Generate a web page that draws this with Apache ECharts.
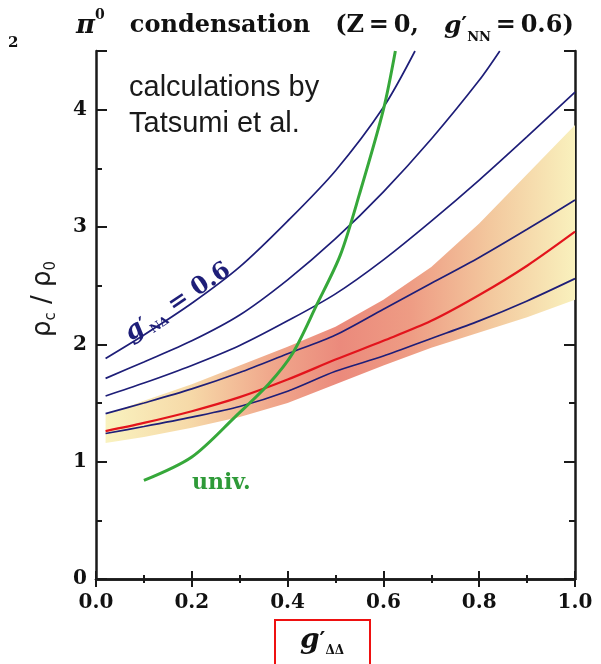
<!DOCTYPE html>
<html lang="en">
<head>
<meta charset="UTF-8">
<title>pi0 condensation</title>
<script src="https://cdn.jsdelivr.net/npm/echarts@6/dist/echarts.min.js"></script>
<style>
    html, body { margin: 0; padding: 0; background: #fff; }
    #main { width: 601px; height: 664px; }
</style>
</head>
<body>
<div id="main"></div>
<script>
    var gDD = [0.02, 0.1, 0.2, 0.3, 0.4, 0.5, 0.6, 0.7, 0.8, 0.9, 1.0];

    // rho_c / rho_0 for g'NΔ = 0.6 ... 0.2 (blue), red curve and the shaded band
    var x06 = [0.02, 0.1, 0.2, 0.3, 0.4, 0.5, 0.6, 0.666];
    var y06 = [1.88, 2.08, 2.35, 2.66, 3.05, 3.48, 4.02, 4.5];
    var x05 = [0.02, 0.1, 0.2, 0.3, 0.4, 0.5, 0.6, 0.7, 0.8, 0.843];
    var y05 = [1.71, 1.85, 2.03, 2.25, 2.55, 2.90, 3.30, 3.75, 4.25, 4.5];
    var y04 = [1.56, 1.67, 1.82, 1.99, 2.20, 2.43, 2.72, 3.05, 3.40, 3.77, 4.15];
    var y03 = [1.41, 1.50, 1.62, 1.76, 1.92, 2.08, 2.30, 2.52, 2.74, 2.98, 3.23];
    var y02 = [1.24, 1.30, 1.38, 1.47, 1.60, 1.77, 1.90, 2.05, 2.20, 2.37, 2.56];
    var yRed = [1.26, 1.33, 1.43, 1.55, 1.70, 1.87, 2.03, 2.20, 2.42, 2.67, 2.96];
    var bandLow = [1.16, 1.21, 1.29, 1.38, 1.50, 1.66, 1.82, 1.97, 2.10, 2.23, 2.38];
    var bandHigh = [1.40, 1.52, 1.66, 1.82, 1.98, 2.15, 2.38, 2.66, 3.03, 3.45, 3.87];

    // universal curve (green)
    var xUniv = [0.1, 0.2, 0.29, 0.36, 0.41, 0.46, 0.51, 0.55, 0.6, 0.625];
    var yUniv = [0.84, 1.04, 1.38, 1.66, 1.92, 2.33, 2.76, 3.28, 4.0, 4.5];

    var xTicks = [0, 0.2, 0.4, 0.6, 0.8, 1.0];
    var yTicks = [0, 1, 2, 3, 4];

    function pts(xs, ys) {
        return xs.map(function (x, i) { return [x, ys[i]]; });
    }

    var navy = '#1e1e78';
    var serif = 'DejaVu Serif';

    function curve(name, data, color, width) {
        return {
            name: name, type: 'line', data: data, symbol: 'none', smooth: 0.3,
            xAxisIndex: 0, yAxisIndex: 0,
            lineStyle: { color: color, width: width }, z: 3
        };
    }

    var bandFill = new echarts.graphic.LinearGradient(0, 0, 1, 0, [
        { offset: 0, color: '#f9f2bf' },
        { offset: 0.18, color: '#f6d9a8' },
        { offset: 0.35, color: '#f0a88c' },
        { offset: 0.5, color: '#eb8a7c' },
        { offset: 0.65, color: '#ee9c84' },
        { offset: 0.82, color: '#f3c89e' },
        { offset: 1, color: '#f9f1bd' }
    ]);

    // band between bandLow and bandHigh, drawn as one polygon through the axes
    function renderBand(params, api) {
        if (params.dataIndex !== 0) return;
        var top = gDD.map(function (x, i) { return api.coord([x, bandHigh[i]]); });
        var bot = gDD.map(function (x, i) { return api.coord([x, bandLow[i]]); }).reverse();
        return {
            type: 'polygon',
            shape: { points: top.concat(bot) },
            style: { fill: bandFill }
        };
    }

    var axisLine = { show: true, lineStyle: { color: '#1a1a1a', width: 2.5 } };

    function xAx(pos, labels) {
        return {
            type: 'value', position: pos, min: 0, max: 1, interval: 0.2,
            axisLine: axisLine,
            axisTick: { show: true, inside: true, length: 8, lineStyle: { color: '#1a1a1a', width: 2 } },
            minorTick: { show: true, splitNumber: 2, length: 4, lineStyle: { color: '#1a1a1a', width: 2 } },
            splitLine: { show: false },
            axisLabel: {
                show: labels, margin: 14, color: '#111', fontFamily: serif, fontWeight: 'bold', fontSize: 20,
                formatter: function (v) { return xTicks.indexOf(+v.toFixed(1)) >= 0 ? v.toFixed(1) : ''; }
            }
        };
    }

    function yAx(pos, step, len, labels, line) {
        return {
            type: 'value', position: pos, min: 0, max: 4.5, interval: step,
            axisLine: line ? axisLine : { show: false },
            axisTick: { show: true, inside: true, length: len, lineStyle: { color: '#1a1a1a', width: 2 } },
            splitLine: { show: false },
            axisLabel: {
                show: labels, margin: 9, color: '#111', fontFamily: serif, fontWeight: 'bold', fontSize: 20,
                formatter: function (v) { return yTicks.indexOf(v) >= 0 ? String(v) : ''; }
            }
        };
    }

    var chart = echarts.init(document.getElementById('main'));
    chart.setOption({
        backgroundColor: '#fff',
        animation: false,
        grid: { left: 96, right: 26, top: 51, bottom: 85 },
        xAxis: [xAx('bottom', true), xAx('top', false)],
        yAxis: [
            yAx('left', 1, 11, true, true),
            yAx('left', 0.5, 6, false, false),
            yAx('right', 1, 11, false, true),
            yAx('right', 0.5, 6, false, false)
        ],
        series: [
            {
                name: 'band', type: 'custom', renderItem: renderBand,
                data: [[0.5, 2]], xAxisIndex: 0, yAxisIndex: 0, z: 1, silent: true
            },
            curve('0.6', pts(x06, y06), navy, 1.7),
            curve('0.5', pts(x05, y05), navy, 1.7),
            curve('0.4', pts(gDD, y04), navy, 1.7),
            curve('0.3', pts(gDD, y03), navy, 1.7),
            curve('0.2', pts(gDD, y02), navy, 1.7),
            curve('red', pts(gDD, yRed), '#e3141c', 2.2),
            curve('univ', pts(xUniv, yUniv), '#36a83a', 3)
        ],
        graphic: [
            {
                type: 'text', x: 8, y: 36,
                style: { text: '2', fontFamily: serif, fontWeight: 'bold', fontSize: 15, fill: '#111' }
            },
            {
                type: 'text', x: 76, y: 8,
                style: {
                    text: '{pi|π}{sup|0}{t|   condensation   (Z\u2009=\u20090,   }{g|g}{pr|′}{sub|NN}{t|\u2009=\u20090.6)}',
                    fill: '#111',
                    rich: {
                        pi: { fontFamily: serif, fontWeight: 'bold', fontStyle: 'italic', fontSize: 26, lineHeight: 36, verticalAlign: 'middle' },
                        sup: { fontFamily: serif, fontWeight: 'bold', fontSize: 14, lineHeight: 18, verticalAlign: 'top' },
                        t: { fontFamily: serif, fontWeight: 'bold', fontSize: 24, lineHeight: 36, verticalAlign: 'middle' },
                        g: { fontFamily: serif, fontWeight: 'bold', fontStyle: 'italic', fontSize: 25, lineHeight: 36, verticalAlign: 'middle' },
                        pr: { fontFamily: serif, fontWeight: 'bold', fontSize: 22, lineHeight: 36, verticalAlign: 'middle' },
                        sub: { fontFamily: serif, fontWeight: 'bold', fontSize: 13, lineHeight: 20, verticalAlign: 'bottom' }
                    }
                }
            },
            {
                type: 'text', x: 129, y: 70,
                style: {
                    text: 'calculations by\nTatsumi et al.', fill: '#1a1a1a',
                    fontFamily: 'Liberation Sans', fontSize: 29, lineHeight: 36
                }
            },
            {
                type: 'text', x: 178, y: 302, rotation: 0.59,
                style: {
                    text: '{g|g}{pr|′}{sub|NΔ}{t| = 0.6}', fill: navy, align: 'center', verticalAlign: 'middle',
                    rich: {
                        g: { fontFamily: serif, fontWeight: 'bold', fontStyle: 'italic', fontSize: 25, lineHeight: 30, verticalAlign: 'middle' },
                        pr: { fontFamily: serif, fontWeight: 'bold', fontSize: 20, lineHeight: 30, verticalAlign: 'middle' },
                        sub: { fontFamily: serif, fontWeight: 'bold', fontSize: 12, lineHeight: 18, verticalAlign: 'bottom' },
                        t: { fontFamily: serif, fontWeight: 'bold', fontSize: 24, lineHeight: 30, verticalAlign: 'middle' }
                    }
                }
            },
            {
                type: 'text', x: 546, y: 279, rotation: 0.26,
                style: {
                    text: '0.2', fill: navy, align: 'center', verticalAlign: 'middle',
                    fontFamily: 'Liberation Sans', fontSize: 23
                }
            },
            {
                type: 'text', x: 192, y: 472,
                style: { text: 'univ.', fill: '#2e9a38', fontFamily: serif, fontWeight: 'bold', fontSize: 22 }
            },
            {
                type: 'text', x: 43, y: 299, rotation: Math.PI / 2,
                style: {
                    text: '{r|ρ}{s|c}{r| / ρ}{s|0}', fill: '#1a1a1a', align: 'center', verticalAlign: 'middle',
                    rich: {
                        r: { fontFamily: 'DejaVu Sans', fontSize: 26, lineHeight: 32, verticalAlign: 'middle' },
                        s: { fontFamily: 'DejaVu Sans', fontSize: 15, lineHeight: 22, verticalAlign: 'bottom' }
                    }
                }
            },
            {
                type: 'rect', shape: { x: 275, y: 620, width: 95, height: 60 },
                style: { fill: null, stroke: '#ee1111', lineWidth: 2 }
            },
            {
                type: 'text', x: 322, y: 641,
                style: {
                    text: '{g|g}{pr|′}{sub|ΔΔ}', fill: '#111', align: 'center', verticalAlign: 'middle',
                    rich: {
                        g: { fontFamily: serif, fontWeight: 'bold', fontStyle: 'italic', fontSize: 28, lineHeight: 32, verticalAlign: 'middle' },
                        pr: { fontFamily: serif, fontWeight: 'bold', fontSize: 22, lineHeight: 32, verticalAlign: 'middle' },
                        sub: { fontFamily: serif, fontWeight: 'bold', fontSize: 12, lineHeight: 18, verticalAlign: 'bottom' }
                    }
                }
            }
        ]
    });
</script>
</body>
</html>
